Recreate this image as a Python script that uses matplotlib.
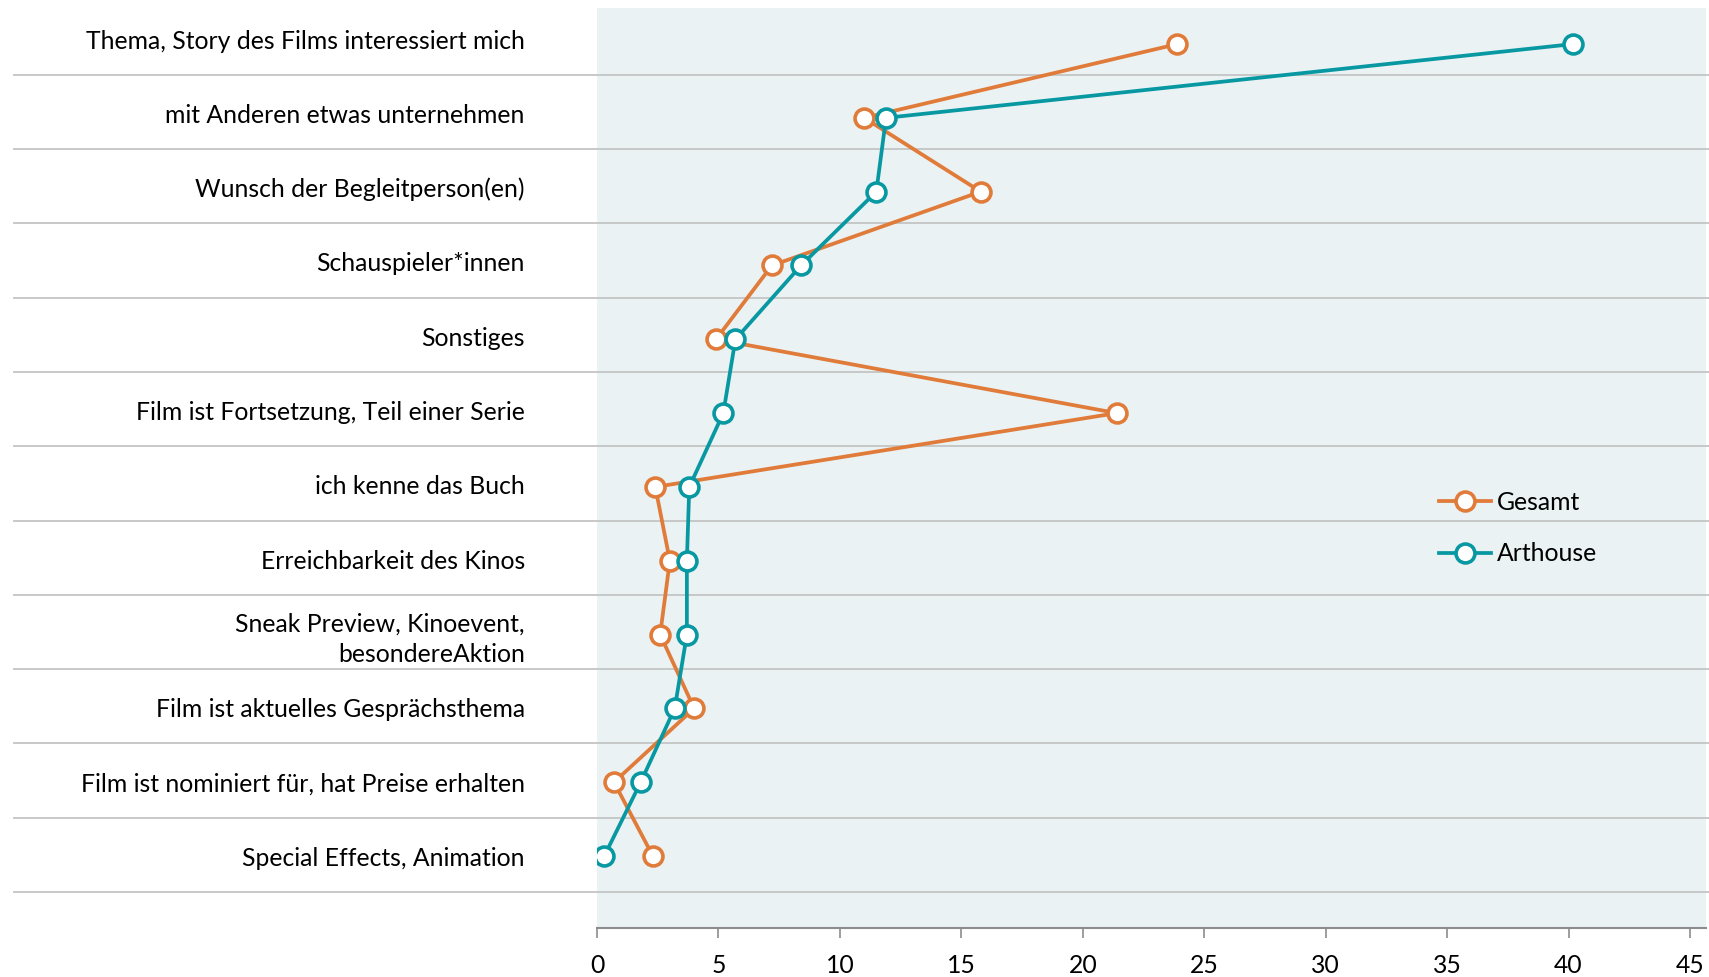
import matplotlib
matplotlib.use("Agg")
import matplotlib.pyplot as plt
import matplotlib.transforms as mtransforms

# Reasons for choosing a film (percent)
categories = [
    "Thema, Story des Films interessiert mich",
    "mit Anderen etwas unternehmen",
    "Wunsch der Begleitperson(en)",
    "Schauspieler*innen",
    "Sonstiges",
    "Film ist Fortsetzung, Teil einer Serie",
    "ich kenne das Buch",
    "Erreichbarkeit des Kinos",
    "Sneak Preview, Kinoevent,\nbesondereAktion",
    "Film ist aktuelles Gesprächsthema",
    "Film ist nominiert für, hat Preise erhalten",
    "Special Effects, Animation",
]
gesamt = [23.9, 11.0, 15.8, 7.2, 4.9, 21.4, 2.4, 3.0, 2.6, 4.0, 0.7, 2.3]
arthouse = [40.2, 11.9, 11.5, 8.4, 5.7, 5.2, 3.8, 3.7, 3.7, 3.2, 1.8, 0.3]
series_names = ["Gesamt", "Arthouse"]
x_ticks = [0, 5, 10, 15, 20, 25, 30, 35, 40, 45]

ORANGE = "#E07B39"
TEAL = "#0898A2"
BG = "#EAF2F4"
GRID = "#C4C4C4"
FS = 17.8

plt.rcParams["font.family"] = ["Lato", "DejaVu Sans"]

fig = plt.figure(figsize=(17.09, 9.77), dpi=100)
ax = fig.add_axes([597 / 1709, 49 / 977, 1109 / 1709, 920 / 977])
ax.set_facecolor(BG)

rows = list(range(len(categories)))
ax.set_xlim(0, 45.66)
ax.set_ylim(11.975, -0.488)

# category bands: separators below each band, labels centred in the band
band = 1.0065
sep_pos = [0.416 + band * k for k in range(len(categories))]
label_pos = [s - band * 0.48 for s in sep_pos]
trans = mtransforms.blended_transform_factory(ax.transAxes, ax.transData)
for y in sep_pos:
    ax.plot([-0.526, 1.003], [y, y], transform=trans, color=GRID,
            lw=1.3, clip_on=False, zorder=1)

common = dict(lw=2.7, marker="o", markersize=13.6, markeredgewidth=2.6,
              markerfacecolor="white", zorder=3)
ax.plot(gesamt, rows, color=ORANGE, markeredgecolor=ORANGE,
        label=series_names[0], **common)
ax.plot(arthouse, rows, color=TEAL, markeredgecolor=TEAL,
        label=series_names[1], **common)

ax.set_yticks(label_pos)
ax.set_yticklabels(categories, fontsize=FS, linespacing=1.38, ha="right")
ax.tick_params(axis="y", length=0, pad=52)

ax.set_xticks(x_ticks)
ax.set_xticklabels([str(t) for t in x_ticks], fontsize=FS)
ax.tick_params(axis="x", length=7, width=1.2, color="#8C8C8C", pad=11.5,
               direction="out")

for side in ("top", "right", "left"):
    ax.spines[side].set_visible(False)
ax.spines["bottom"].set_color("#8C8C8C")
ax.spines["bottom"].set_linewidth(1.5)

leg = ax.legend(loc="center left", bbox_to_anchor=(1417 / 1709, 1 - 528 / 977),
                bbox_transform=fig.transFigure, frameon=False, fontsize=FS,
                handlelength=2.1, handletextpad=0.25, labelspacing=1.15)

fig.savefig("out.png", dpi=100)
